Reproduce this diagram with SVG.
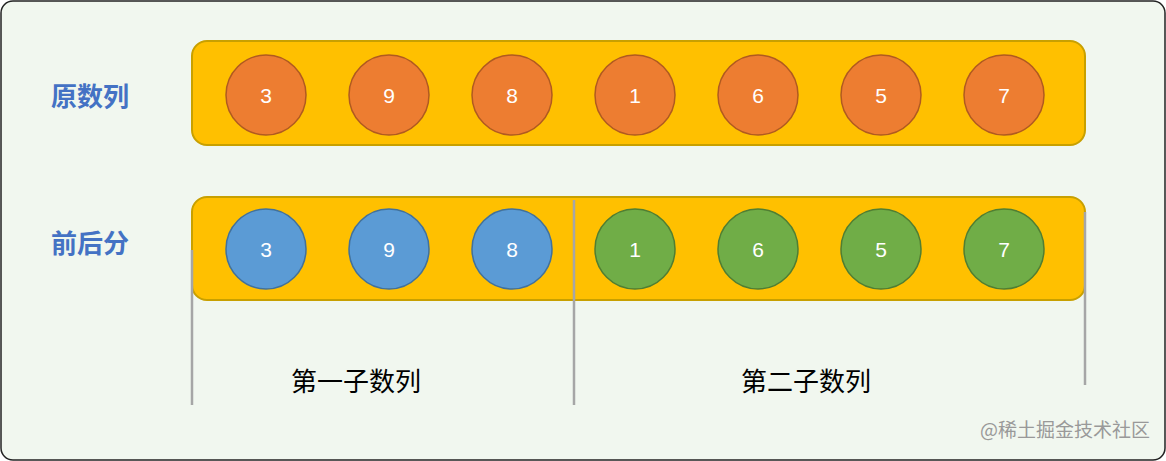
<svg xmlns="http://www.w3.org/2000/svg" width="1166" height="461" viewBox="0 0 1166 461">
<style>
.bar{fill:#FFC000;stroke:#C8A000;stroke-width:2}
.o{fill:#ED7D31;stroke:#B05A20;stroke-width:1.5}
.b{fill:#5B9BD5;stroke:#41719C;stroke-width:1.5}
.g{fill:#70AD47;stroke:#507E32;stroke-width:1.5}
.n{font-family:"Liberation Sans",Arial,sans-serif;font-size:21px;fill:#fff;text-anchor:middle;dominant-baseline:central}
.h{font-family:"Noto Sans CJK SC",sans-serif;font-size:26px;font-weight:bold;fill:#4472C4;text-anchor:middle;dominant-baseline:central}
.s{font-family:"Noto Sans CJK SC",sans-serif;font-size:26px;fill:#000;text-anchor:middle;dominant-baseline:central}
.l{stroke:#A6A6A6;stroke-width:2.5}
</style>
<rect x="1" y="1" width="1164" height="459" rx="12" fill="#F1F7EF" stroke="#222" stroke-width="1.5"/>
<text class="h" x="90" y="94">原数列</text>
<text class="h" x="90" y="241">前后分</text>
<g id="row1">
<rect class="bar" x="192" y="41" width="893" height="104" rx="15"/>
<circle class="o" cx="266" cy="95" r="40"/><text class="n" x="266" y="95">3</text>
<circle class="o" cx="389" cy="95" r="40"/><text class="n" x="389" y="95">9</text>
<circle class="o" cx="512" cy="95" r="40"/><text class="n" x="512" y="95">8</text>
<circle class="o" cx="635" cy="95" r="40"/><text class="n" x="635" y="95">1</text>
<circle class="o" cx="758" cy="95" r="40"/><text class="n" x="758" y="95">6</text>
<circle class="o" cx="881" cy="95" r="40"/><text class="n" x="881" y="95">5</text>
<circle class="o" cx="1004" cy="95" r="40"/><text class="n" x="1004" y="95">7</text>
</g>
<g id="row2">
<rect class="bar" x="192" y="197" width="893" height="103" rx="15"/>
<circle class="b" cx="266" cy="249" r="40"/><text class="n" x="266" y="249">3</text>
<circle class="b" cx="389" cy="249" r="40"/><text class="n" x="389" y="249">9</text>
<circle class="b" cx="512" cy="249" r="40"/><text class="n" x="512" y="249">8</text>
<circle class="g" cx="635" cy="249" r="40"/><text class="n" x="635" y="249">1</text>
<circle class="g" cx="758" cy="249" r="40"/><text class="n" x="758" y="249">6</text>
<circle class="g" cx="881" cy="249" r="40"/><text class="n" x="881" y="249">5</text>
<circle class="g" cx="1004" cy="249" r="40"/><text class="n" x="1004" y="249">7</text>
</g>
<g id="connectors">
<line class="l" x1="192" y1="250" x2="192" y2="405"/>
<line class="l" x1="574" y1="200" x2="574" y2="405"/>
<line class="l" x1="1085" y1="212" x2="1085" y2="385"/>
</g>
<text class="s" x="356" y="379">第一子数列</text>
<text class="s" x="806" y="379">第二子数列</text>
<text x="1150" y="437" font-family="Noto Sans CJK SC,sans-serif" font-size="19" fill="#999" text-anchor="end">@稀土掘金技术社区</text>
</svg>
